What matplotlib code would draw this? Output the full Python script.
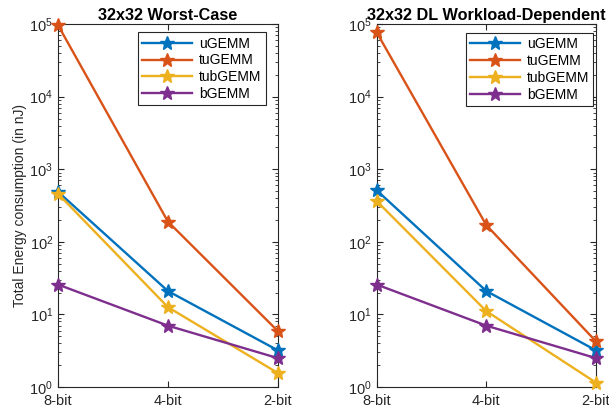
import matplotlib
matplotlib.use('Agg')
import matplotlib.pyplot as plt
import numpy as np
from matplotlib.ticker import LogLocator, NullFormatter

plt.rcParams['font.family'] = ['Liberation Sans', 'DejaVu Sans']
plt.rcParams['font.size'] = 10
plt.rcParams['mathtext.fontset'] = 'custom'
plt.rcParams['mathtext.rm'] = 'Liberation Sans'

bits = ['8-bit', '4-bit', '2-bit']
series = ['uGEMM', 'tuGEMM', 'tubGEMM', 'bGEMM']

# Total energy (nJ)
worst_case = {
    'uGEMM': [490, 21, 3.2],
    'tuGEMM': [97000, 190, 5.9],
    'tubGEMM': [460, 12.6, 1.56],
    'bGEMM': [25.8, 7.0, 2.5],
}
workload = {
    'uGEMM': [513, 21, 3.2],
    'tuGEMM': [77000, 170, 4.26],
    'tubGEMM': [365, 11.1, 1.15],
    'bGEMM': [25.8, 7.0, 2.5],
}
titles = ['32x32 Worst-Case', '32x32 DL Workload-Dependent']

COLORS = ['#0072BD', '#D95319', '#EDB120', '#7E2F8E']
AX_COLOR = '#262626'

fig = plt.figure(figsize=(6.09, 4.11), dpi=100)
ax1 = fig.add_axes([0.0952, 0.0584, 0.361, 0.883])
ax2 = fig.add_axes([0.6185, 0.0584, 0.360, 0.883])

xs = np.arange(len(bits))
legend_anchor = [(0.945, 0.977), (0.988, 0.975)]

for ax, data, title, anchor in zip([ax1, ax2], [worst_case, workload], titles, legend_anchor):
    for name, color in zip(series, COLORS):
        ax.plot(xs, data[name], color=color, lw=1.7, marker='*', markersize=10.5,
                label=name, clip_on=False, zorder=3)
    ax.set_yscale('log')
    ax.set_ylim(1, 1e5)
    ax.set_xlim(0, 2)
    ax.set_xticks(xs)
    ax.set_xticklabels(bits)
    ax.yaxis.set_major_locator(LogLocator(base=10, numticks=10))
    ax.yaxis.set_minor_locator(LogLocator(base=10, subs=np.arange(2, 10), numticks=10))
    ax.yaxis.set_minor_formatter(NullFormatter())
    ax.tick_params(which='both', direction='in', top=True, right=True,
                   colors=AX_COLOR, labelsize=10.5)
    ax.tick_params(which='major', length=4)
    ax.tick_params(which='minor', length=2)
    ax.tick_params(axis='x', pad=5)
    for sp in ax.spines.values():
        sp.set_color(AX_COLOR)
        sp.set_linewidth(0.8)
    ax.set_title(title, fontsize=11.7, fontweight='bold', pad=3)
    leg = ax.legend(loc='upper right', bbox_to_anchor=anchor, fancybox=False,
                    edgecolor=AX_COLOR, framealpha=1, handlelength=3.6,
                    borderpad=0.3, labelspacing=0.2, handletextpad=0.5,
                    borderaxespad=0, fontsize=10)
    leg.get_frame().set_linewidth(0.8)

ax1.set_ylabel('Total Energy consumption (in nJ)', color=AX_COLOR, labelpad=2)

fig.savefig('out.png', dpi=100)
